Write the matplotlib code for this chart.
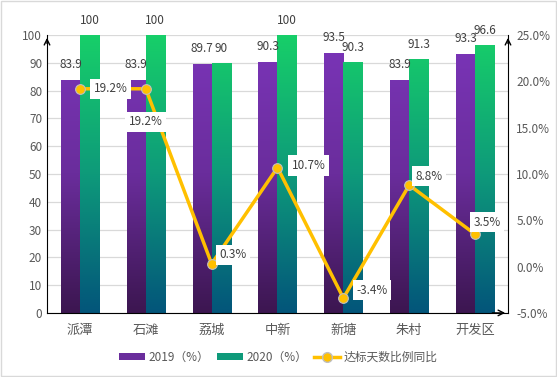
import numpy as np
import matplotlib.pyplot as plt
from matplotlib.colors import LinearSegmentedColormap
from matplotlib.patches import Patch, Rectangle
from matplotlib.lines import Line2D

plt.rcParams['font.family'] = ['Noto Sans CJK SC', 'DejaVu Sans']

# 数据
towns = ["派潭", "石滩", "荔城", "中新", "新塘", "朱村", "开发区"]
v2019 = [83.9, 83.9, 89.7, 90.3, 93.5, 83.9, 93.3]
v2020 = [100, 100, 90, 100, 90.3, 91.3, 96.6]
yoy = [19.2, 19.2, 0.3, 10.7, -3.4, 8.8, 3.5]
lbl2019 = ["83.9", "83.9", "89.7", "90.3", "93.5", "83.9", "93.3"]
lbl2020 = ["100", "100", "90", "100", "90.3", "91.3", "96.6"]

tick_col = "#595959"
purple_cm = LinearSegmentedColormap.from_list("p", ["#3c1650", "#6a2d9c", "#7b35b9"])
green_cm = LinearSegmentedColormap.from_list("g", ["#03557a", "#0e9a7a", "#17cf69"])

fig = plt.figure(figsize=(5.57, 3.77), dpi=100)
ax = fig.add_axes([0.0844, 0.170, 0.8276, 0.737])
ax2 = ax.twinx()

x = np.arange(len(towns))
w = 0.29
grad = np.linspace(0, 1, 256).reshape(-1, 1)

def grad_bars(xs, vals, cmap):
    bars = ax.bar(xs, vals, w, color="none", edgecolor="none", zorder=2)
    for b in bars:
        im = ax.imshow(grad, cmap=cmap, origin="lower", aspect="auto",
                       extent=[b.get_x(), b.get_x() + b.get_width(), 0, 100],
                       zorder=2)
        im.set_clip_path(b)
    return bars

b1 = grad_bars(x - w / 2, v2019, purple_cm)
b2 = grad_bars(x + w / 2, v2020, green_cm)

for b, t in zip(b1, lbl2019):
    ax.annotate(t, (b.get_x() + b.get_width() / 2, b.get_height()), xytext=(0, 9),
                textcoords="offset pixels", ha="center", va="bottom",
                fontsize=8.5, color="#404040", annotation_clip=False)
for b, t in zip(b2, lbl2020):
    ax.annotate(t, (b.get_x() + b.get_width() / 2, b.get_height()), xytext=(0, 8),
                textcoords="offset pixels", ha="center", va="bottom",
                fontsize=8.5, color="#404040", annotation_clip=False)

ax.set_xlim(-0.5, len(towns) - 0.5)
ax.set_ylim(0, 100)
ax.set_yticks(range(0, 101, 10))
ax.set_xticks(x)
ax.set_xticklabels(towns, fontsize=9.5, color=tick_col)
ax.tick_params(axis="both", length=0, labelsize=8.5, labelcolor=tick_col)
ax.tick_params(axis="x", pad=8, labelsize=9.5)
ax.grid(axis="y", color="#d9d9d9", linewidth=0.9, zorder=0)
ax.set_axisbelow(True)
for s in ["top", "right"]:
    ax.spines[s].set_visible(False)
ax.spines["left"].set_color("black")
ax.spines["bottom"].set_color("black")

# 同比折线
ax2.plot(x, yoy, color="#ffc000", linewidth=2.5, marker="o", markersize=7,
         markerfacecolor="#ffc000", markeredgecolor="#bfbfbf", markeredgewidth=0.8,
         zorder=5)
ax2.set_ylim(-5, 25)
ax2.set_yticks(range(-5, 26, 5))
ax2.set_yticklabels([f"{v:.1f}%" for v in range(-5, 26, 5)])
ax2.tick_params(axis="y", length=0, labelsize=8.5, labelcolor=tick_col, pad=6)
for s in ["top", "left", "bottom"]:
    ax2.spines[s].set_visible(False)
ax2.spines["right"].set_color("black")

offs = [(14, 0, "left"), (0, -33, "center"), (8, 9, "left"), (14, 2, "left"),
        (13, 8, "left"), (6, 9, "left"), (12, 12, "center")]
for xi, v, (dx, dy, ha) in zip(x, yoy, offs):
    ax2.annotate(f"{v}%", (xi, v), xytext=(dx, dy), textcoords="offset pixels",
                 ha=ha, va="center", fontsize=8.5, color="#404040", zorder=6,
                 bbox=dict(boxstyle="square,pad=0.3", fc="white", ec="none"))

# 坐标轴箭头
arr = dict(arrowstyle="->", color="black", lw=1)
ax.annotate("", xy=(0, 1.0), xytext=(0, 0.96), xycoords="axes fraction", arrowprops=arr)
ax.annotate("", xy=(1, 1.0), xytext=(1, 0.96), xycoords="axes fraction", arrowprops=arr)
ax.annotate("", xy=(1.0, 0), xytext=(0.96, 0), xycoords="axes fraction", arrowprops=arr)

handles = [Patch(facecolor="#6a2d9c", label="2019（%）"),
           Patch(facecolor="#0e9a7a", label="2020（%）"),
           Line2D([], [], color="#ffc000", lw=2.5, marker="o", markersize=7,
                  markeredgecolor="#bfbfbf", label="达标天数比例同比")]
fig.legend(handles=handles, loc="center", bbox_to_anchor=(0.5, 0.053), ncol=3,
           frameon=False, fontsize=8.5, handlelength=2.2, handleheight=0.5,
           handletextpad=0.3, columnspacing=0.6, labelcolor=tick_col)

fig.patches.append(Rectangle((0.002, 0.003), 0.996, 0.994, transform=fig.transFigure,
                             fill=False, edgecolor="#d9d9d9", linewidth=1))

fig.savefig("out.png", dpi=100)
